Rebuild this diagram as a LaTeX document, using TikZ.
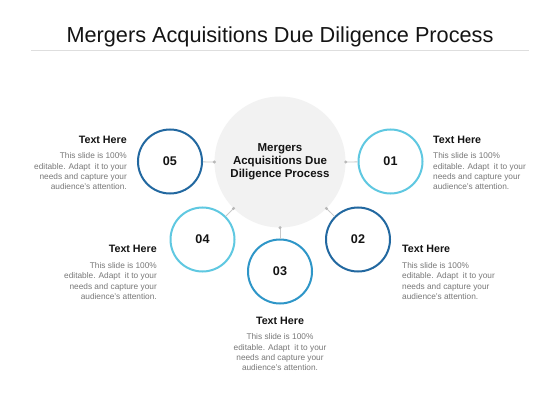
\documentclass[tikz,border=0pt]{standalone}
\usepackage{fontspec}
\setmainfont{Liberation Sans}
\definecolor{darkb}{RGB}{34,104,160}
\definecolor{lightb}{RGB}{95,200,225}
\definecolor{midb}{RGB}{46,150,200}
\definecolor{bigfill}{RGB}{242,242,242}
\definecolor{connc}{RGB}{200,200,200}
\definecolor{dotc}{RGB}{185,185,185}
\definecolor{bodyc}{RGB}{120,120,120}
\definecolor{headc}{RGB}{20,20,20}
\definecolor{rulec}{RGB}{222,222,222}
\begin{document}
\begin{tikzpicture}[x=1pt,y=-1pt,
  ring/.style={circle, draw=#1, line width=2pt, minimum size=64pt, inner sep=0pt,
    font=\fontsize{12.6}{14}\selectfont\bfseries, text=headc},
  bigc/.style={circle, fill=bigfill, minimum size=131pt, inner sep=0pt, align=center,
    font=\fontsize{11.5}{12.8}\selectfont\bfseries, text=headc},
  head/.style={inner sep=0pt, font=\fontsize{10.7}{12}\selectfont\bfseries, text=headc},
  bodytxt/.style={inner sep=0pt, font=\fontsize{8.3}{10.4}\selectfont, text=bodyc},
  conn/.style={draw=connc, line width=0.8pt},
  dotm/.style={fill=dotc}]
\fill[white] (0,0) rectangle (560,420);
\useasboundingbox (0,0) rectangle (560,420);

% title
\node[anchor=base, inner sep=0pt, font=\fontsize{21.7}{26}\selectfont, text=headc] (title) at (280,42.3) {Mergers Acquisitions Due Diligence Process};
\coordinate (rl) at (31,50.5);
\coordinate (rr) at (529,50.5);
\draw[draw=rulec, line width=0.6pt] (rl) -- (rr);

% central circle
\node[bigc] (big) at (280,162) {Mergers\\Acquisitions Due\\Diligence Process};

% ring circles
\node[ring=lightb] (c1) at (390.5,161.5) {01};
\node[ring=darkb]  (c2) at (358,239.5) {02};
\node[ring=midb]   (c3) at (280,271.5) {03};
\node[ring=lightb] (c4) at (202.5,239.5) {04};
\node[ring=darkb]  (c5) at (170,161.5) {05};

% connectors
\draw[conn] (big.0) -- (c1);
\draw[conn] (big.-45) -- (c2);
\draw[conn] (big.-90) -- (c3);
\draw[conn] (big.-135) -- (c4);
\draw[conn] (big.180) -- (c5);
\foreach \a in {0,-45,-90,-135,180}{\fill[dotm] (big.\a) circle (1.7pt);}

% texts
\node[head, anchor=base west] (h1) at (433,143) {Text Here};
\node[bodytxt, anchor=north west, align=left] (b1) at (433,152.5) {This slide is 100\%\\editable. Adapt\ \ it to your\\needs and capture your\\audience's attention.};

\node[head, anchor=base west] (h2) at (402,252) {Text Here};
\node[bodytxt, anchor=north west, align=left] (b2) at (402,262) {This slide is 100\%\\editable. Adapt\ \ it to your\\needs and capture your\\audience's attention.};

\node[head, anchor=base] (h3) at (280,324) {Text Here};
\node[bodytxt, anchor=north, align=center] (b3) at (280,333.5) {This slide is 100\%\\editable. Adapt\ \ it to your\\needs and capture your\\audience's attention.};

\node[head, anchor=base east] (h4) at (157,252) {Text Here};
\node[bodytxt, anchor=north east, align=right] (b4) at (157,262) {This slide is 100\%\\editable. Adapt\ \ it to your\\needs and capture your\\audience's attention.};

\node[head, anchor=base east] (h5) at (127,143) {Text Here};
\node[bodytxt, anchor=north east, align=right] (b5) at (127,152.5) {This slide is 100\%\\editable. Adapt\ \ it to your\\needs and capture your\\audience's attention.};
\end{tikzpicture}
\end{document}
